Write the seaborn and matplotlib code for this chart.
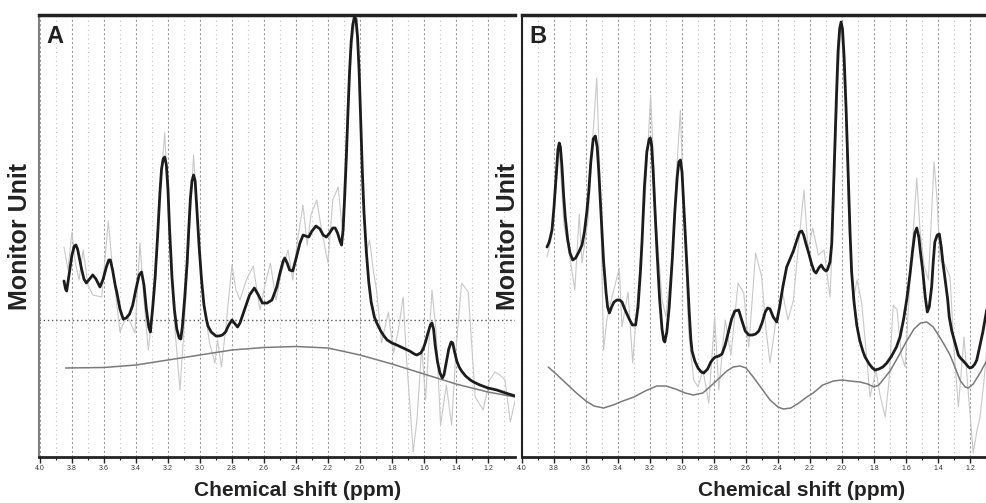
import numpy as np
import pandas as pd
import matplotlib
matplotlib.use("Agg")
import matplotlib.pyplot as plt
from matplotlib.ticker import MultipleLocator, FormatStrFormatter
import seaborn as sns

# --- Setup ---
sns.set_theme(style="white")
plt.rcParams['font.family'] = ['Liberation Sans', 'DejaVu Sans']

# --- Data: panel A (ppm, monitor units) ---
a_raw_ppm = [3.85, 3.825, 3.80, 3.78, 3.756, 3.73, 3.70, 3.67, 3.614, 3.573, 3.55, 3.50, 3.456, 3.406,
             3.375, 3.35, 3.323, 3.28, 3.25, 3.22, 3.19, 3.156, 3.125, 3.088, 3.04, 3.01, 2.98, 2.94,
             2.906, 2.89, 2.866, 2.84, 2.80, 2.775, 2.75, 2.71, 2.667, 2.625, 2.594, 2.56, 2.525, 2.49,
             2.45, 2.42, 2.39, 2.356, 2.33, 2.306, 2.27, 2.24, 2.20, 2.17, 2.136, 2.11, 2.09, 2.06, 2.03,
             2.0, 1.98, 1.96, 1.94, 1.917, 1.896, 1.865, 1.823, 1.79, 1.76, 1.73, 1.71, 1.69, 1.667,
             1.644, 1.614, 1.59, 1.55, 1.525, 1.496, 1.46, 1.427, 1.40, 1.365, 1.323, 1.28, 1.23, 1.19,
             1.156, 1.125, 1.094, 1.06, 1.03]
a_raw_amp = [210, 187, 225, 195, 177, 207, 172, 162, 160, 236, 195, 125, 142, 124,
             214, 157, 107, 167, 267, 324, 217, 127, 67, 157, 302, 227, 157, 114,
             94, 117, 90, 127, 192, 167, 157, 177, 191, 147, 172, 194, 157, 185,
             207, 177, 217, 252, 212, 242, 257, 227, 194, 257, 270, 227, 307, 397, 439,
             377, 257, 204, 217, 187, 167, 114, 145, 104, 127, 160, 100, 57, 5,
             37, 110, 57, 167, 127, 32, 72, 32, 107, 174, 165, 60, 47, 77,
             85, 82, 77, 35, 57]

a_fit_ppm = [3.85, 3.84, 3.833, 3.82, 3.80, 3.785, 3.775, 3.765, 3.75, 3.74, 3.725, 3.71, 3.69, 3.67,
             3.65, 3.625, 3.605, 3.585, 3.57, 3.56, 3.545, 3.53, 3.52, 3.50, 3.48, 3.46, 3.44, 3.42,
             3.40, 3.38, 3.365, 3.35, 3.335, 3.32, 3.31, 3.295, 3.28, 3.265, 3.25, 3.24, 3.23, 3.22,
             3.21, 3.20, 3.19, 3.175, 3.16, 3.145, 3.13, 3.12, 3.11, 3.095, 3.08, 3.07, 3.06, 3.05,
             3.04, 3.03, 3.02, 3.005, 2.99, 2.975, 2.96, 2.95, 2.93, 2.90, 2.88, 2.86, 2.84, 2.82,
             2.80, 2.78, 2.765, 2.75, 2.72, 2.69, 2.66, 2.635, 2.61, 2.58, 2.55, 2.52, 2.50, 2.48,
             2.47, 2.455, 2.44, 2.42, 2.40, 2.375, 2.355, 2.34, 2.32, 2.30, 2.275, 2.25, 2.23, 2.21,
             2.19, 2.17, 2.155, 2.14, 2.125, 2.115, 2.105, 2.095, 2.085, 2.075, 2.065, 2.055, 2.045,
             2.035, 2.025, 2.015, 2.005, 1.995, 1.985, 1.975, 1.96, 1.945, 1.93, 1.91, 1.895, 1.87,
             1.85, 1.83, 1.80, 1.77, 1.73, 1.69, 1.66, 1.645, 1.62, 1.605, 1.59, 1.575, 1.56, 1.55,
             1.54, 1.53, 1.515, 1.50, 1.485, 1.475, 1.46, 1.445, 1.43, 1.42, 1.41, 1.395, 1.38, 1.365,
             1.34, 1.31, 1.29, 1.25, 1.20, 1.145, 1.09, 1.03]
a_fit_amp = [176, 168, 166, 180, 202, 211, 212, 208, 196, 188, 178, 174, 178, 182,
             178, 170, 178, 190, 197, 197, 186, 172, 165, 148, 138, 139, 143, 152,
             168, 182, 185, 172, 148, 130, 125, 150, 180, 220, 265, 288, 298, 300,
             292, 268, 228, 180, 148, 128, 119, 118, 130, 160, 195, 228, 258, 276,
             282, 276, 250, 210, 177, 152, 138, 131, 125, 121, 121, 122, 125, 132,
             137, 133, 130, 134, 148, 162, 169, 162, 154, 154, 157, 170, 184, 196,
             199, 194, 187, 186, 198, 214, 222, 221, 220, 226, 231, 228, 222, 220,
             224, 229, 229, 224, 216, 212, 228, 262, 300, 345, 385, 415, 432,
             440, 438, 420, 385, 335, 285, 245, 205, 175, 155, 140, 134, 126,
             121, 117, 114, 112, 109, 106, 103, 102, 104, 108, 115, 124, 132, 134,
             128, 112, 95, 84, 79, 82, 95, 108, 115, 114, 106, 96, 90, 86,
             81, 77, 75, 72, 69, 67, 64, 61]

a_base_ppm = [3.84, 3.6, 3.4, 3.2, 3.0, 2.8, 2.6, 2.4, 2.2, 2.0, 1.8, 1.6, 1.4, 1.2, 1.03]
a_base_amp = [89, 89.5, 92, 97, 102, 107, 109.5, 110.5, 109, 102, 93, 83, 73, 65, 60]

a_ref_level = 137

# --- Data: panel B ---
b_raw_ppm = [3.844, 3.8125, 3.767, 3.7375, 3.70, 3.67, 3.642, 3.625, 3.5875, 3.5625, 3.533, 3.5125,
             3.49, 3.47, 3.442, 3.392, 3.375, 3.3375, 3.308, 3.267, 3.231, 3.196, 3.1625, 3.125, 3.10,
             3.0625, 3.0375, 3.01, 2.9875, 2.958, 2.927, 2.90, 2.869, 2.833, 2.796, 2.77, 2.73, 2.694,
             2.65, 2.614, 2.583, 2.54, 2.502, 2.475, 2.45, 2.4125, 2.375, 2.3375, 2.304, 2.275, 2.2375,
             2.2125, 2.183, 2.148, 2.1125, 2.075, 2.05, 2.025, 2.006, 1.98, 1.956, 1.93, 1.906, 1.877,
             1.85, 1.825, 1.7875, 1.7625, 1.73, 1.706, 1.68, 1.656, 1.63, 1.606, 1.575, 1.533, 1.5125,
             1.4875, 1.46, 1.425, 1.406, 1.3875, 1.356, 1.325, 1.30, 1.273, 1.2375, 1.2125, 1.18, 1.156,
             1.1375, 1.1125, 1.096]
b_raw_amp = [200, 222, 307, 232, 199, 167, 243, 194, 237, 307, 379, 277,
             107, 137, 157, 189, 130, 165, 94, 185, 257, 362, 237, 157, 140,
             197, 277, 347, 237, 124, 77, 70, 87, 54, 140, 67, 137, 102,
             174, 164, 110, 204, 180, 127, 94, 137, 167, 137, 157, 207, 267,
             207, 229, 202, 207, 160, 257, 377, 435, 357, 227, 157, 177, 154,
             107, 60, 87, 62, 40, 77, 152, 147, 102, 90, 177, 279, 227,
             192, 177, 295, 257, 197, 192, 180, 107, 50, 120, 67, 4, 27,
             40, 77, 107]

b_fit_ppm = [3.844, 3.83, 3.8125, 3.80, 3.785, 3.775, 3.767, 3.76, 3.75, 3.74, 3.73, 3.715, 3.70,
             3.683, 3.665, 3.645, 3.625, 3.61, 3.595, 3.583, 3.57, 3.555, 3.542, 3.53, 3.52, 3.51,
             3.50, 3.49, 3.475, 3.465, 3.454, 3.44, 3.425, 3.406, 3.39, 3.375, 3.358, 3.33, 3.31,
             3.29, 3.275, 3.26, 3.25, 3.235, 3.22, 3.205, 3.198, 3.19, 3.18, 3.17, 3.156, 3.14,
             3.125, 3.115, 3.108, 3.095, 3.08, 3.07, 3.06, 3.045, 3.03, 3.02, 3.01, 3.0, 2.99, 2.98,
             2.969, 2.955, 2.945, 2.9375, 2.92, 2.90, 2.88, 2.864, 2.84, 2.82, 2.80, 2.79, 2.77, 2.75,
             2.73, 2.71, 2.69, 2.67, 2.646, 2.625, 2.605, 2.583, 2.56, 2.54, 2.52, 2.50, 2.48, 2.465,
             2.45, 2.43, 2.408, 2.39, 2.37, 2.346, 2.325, 2.304, 2.28, 2.265, 2.252, 2.24, 2.225,
             2.21, 2.19, 2.175, 2.1625, 2.145, 2.13, 2.115, 2.10, 2.092, 2.075, 2.064, 2.055, 2.045,
             2.035, 2.025, 2.015, 2.006, 1.997, 1.987, 1.975, 1.963, 1.95, 1.94, 1.925, 1.908, 1.89,
             1.87, 1.856, 1.83, 1.81, 1.794, 1.77, 1.745, 1.72, 1.69, 1.66, 1.6375, 1.615, 1.595,
             1.575, 1.56, 1.545, 1.533, 1.52, 1.51, 1.496, 1.48, 1.467, 1.455, 1.44, 1.43, 1.42,
             1.405, 1.392, 1.38, 1.37, 1.356, 1.34, 1.33, 1.314, 1.29, 1.273, 1.26, 1.242, 1.225,
             1.21, 1.20, 1.185, 1.17, 1.158, 1.14, 1.12, 1.096]
b_fit_amp = [210, 215, 227, 250, 285, 308, 314, 310, 290, 262, 240, 218, 204,
             197, 199, 205, 212, 225, 245, 265, 295, 318, 321, 310, 285, 255,
             225, 195, 165, 150, 144, 150, 155, 157, 157, 155, 148, 138, 132,
             132, 150, 185, 215, 270, 305, 318, 319, 312, 285, 250, 205, 158,
             128, 117, 115, 125, 150, 175, 200, 245, 280, 295, 297, 285, 255, 225,
             190, 145, 118, 106, 96, 89, 85, 84, 88, 95, 99, 100, 101, 103,
             112, 125, 138, 146, 147, 136, 126, 122, 122, 123, 126, 134, 145, 149,
             148, 140, 135, 150, 170, 190, 198, 206, 218, 225, 226, 222, 213,
             205, 193, 186, 184, 189, 192, 188, 186, 187, 195, 214, 260, 310,
             360, 405, 428, 435, 428, 400, 350, 290, 225, 185, 155, 132, 117,
             106, 100, 93, 89, 87, 88, 90, 94, 101, 110, 120, 138, 158,
             183, 205, 224, 229, 220, 205, 187, 160, 145, 150, 170, 195, 215,
             222, 223, 210, 195, 178, 158, 140, 126, 112, 102, 99, 96, 93,
             90, 89, 90, 93, 97, 110, 125, 147]

b_base_ppm = [3.836, 3.78, 3.72, 3.66, 3.60, 3.55, 3.49, 3.43, 3.37, 3.30, 3.23, 3.158, 3.10, 3.04,
              2.98, 2.93, 2.87, 2.82, 2.78, 2.72, 2.68, 2.6375, 2.60, 2.555, 2.50, 2.45, 2.40, 2.367,
              2.32, 2.27, 2.22, 2.18, 2.12, 2.054, 2.0, 1.95, 1.8875, 1.84, 1.80, 1.77, 1.74, 1.70,
              1.65, 1.60, 1.55, 1.51, 1.47, 1.43, 1.39, 1.36, 1.325, 1.29, 1.26, 1.23, 1.21, 1.18,
              1.1375, 1.094]
b_base_amp = [90, 82, 73, 64, 56, 51, 49, 52, 56, 60, 66, 71, 71, 68,
              64, 62, 64, 71, 77, 86, 90, 91, 89, 80, 68, 57, 50, 48,
              49, 54, 60, 64, 72, 76, 77, 76, 75, 73, 70, 72, 78, 86,
              100, 115, 128, 134, 135, 130, 120, 112, 102, 88, 76, 70, 69, 73,
              84, 97]

# --- Figure ---
fig = plt.figure(figsize=(9.87, 5.03), dpi=100)
axA = fig.add_axes([39 / 987, 46 / 503, 476 / 987, 442 / 503])
axB = fig.add_axes([522 / 987, 46 / 503, 465 / 987, 442 / 503])

panels = [
    (axA, "A", a_raw_ppm, a_raw_amp, a_fit_ppm, a_fit_amp, a_base_ppm, a_base_amp, (4.006, 1.031)),
    (axB, "B", b_raw_ppm, b_raw_amp, b_fit_ppm, b_fit_amp, b_base_ppm, b_base_amp, (4.0, 1.094)),
]

for ax, letter, rx, ry, fx, fy, bx, by, xlim in panels:
    raw = pd.DataFrame({"ppm": rx, "amp": ry})
    fit = pd.DataFrame({"ppm": fx, "amp": fy})
    base = pd.DataFrame({"ppm": bx, "amp": by})

    sns.lineplot(data=raw, x="ppm", y="amp", ax=ax, color="#c8c8c8", lw=0.8,
                 sort=False, estimator=None, zorder=3)
    sns.lineplot(data=base, x="ppm", y="amp", ax=ax, color="#7a7a7a", lw=1.1,
                 sort=False, estimator=None, zorder=4)
    sns.lineplot(data=fit, x="ppm", y="amp", ax=ax, color="#1c1c1c", lw=2.0,
                 sort=False, estimator=None, zorder=5)

    ax.set_xlim(*xlim)
    ax.set_ylim(0, 442)
    ax.set_yticks([])

    ax.xaxis.set_major_locator(MultipleLocator(0.2))
    ax.xaxis.set_minor_locator(MultipleLocator(0.1))
    ax.xaxis.set_major_formatter(FormatStrFormatter('%.1f'))
    ax.tick_params(axis='x', which='major', direction='out', length=4, width=1,
                   color='#222222', labelsize=5, labelcolor='#333333', pad=2, bottom=True)
    ax.tick_params(axis='x', which='minor', direction='out', length=2.5, width=0.8,
                   color='#222222', bottom=True)

    ax.grid(True, axis='x', which='major', color='#9a9a9a', linestyle=(0, (2, 2)), lw=0.8)
    ax.grid(True, axis='x', which='minor', color='#c0c0c0', linestyle=(0, (1, 3)), lw=0.8)
    ax.set_axisbelow(True)

    ax.spines['right'].set_visible(False)
    ax.spines['top'].set_linewidth(2.5)
    ax.spines['top'].set_color('#222222')
    ax.spines['bottom'].set_linewidth(2.0)
    ax.spines['bottom'].set_color('#222222')
    ax.spines['left'].set_linewidth(1.5)

    ax.set_xlabel("Chemical shift (ppm)", fontsize=15, fontweight='bold', color='#222222')
    ax.set_ylabel("Monitor Unit", fontsize=18, fontweight='bold', color='#222222')

    ax.text(0.016, 0.978, letter, transform=ax.transAxes, ha='left', va='top',
            fontsize=17, fontweight='bold', color='#222222')

axA.spines['left'].set_color('#808080')
axB.spines['left'].set_color('#222222')

axA.axhline(a_ref_level, color='#555555', linestyle=(0, (1, 2)), lw=1.0, zorder=2)

axA.xaxis.set_label_coords(0.544, -0.055)
axB.xaxis.set_label_coords(0.602, -0.055)
axA.yaxis.set_label_coords(-0.014, 0.5)
axB.yaxis.set_label_coords(-0.004, 0.5)

fig.savefig("out.png", dpi=100)
